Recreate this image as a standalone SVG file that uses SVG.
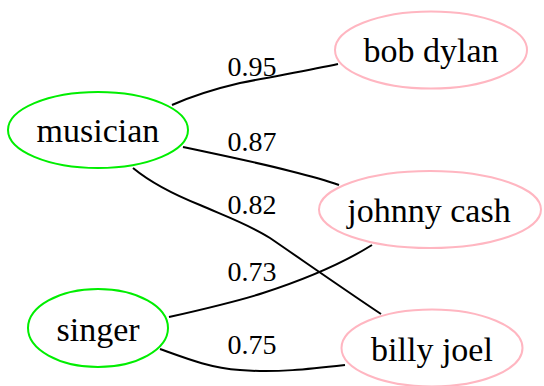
<svg xmlns="http://www.w3.org/2000/svg" width="544" height="386" viewBox="0 0 544 386">
<style>
.n{fill:#fff;stroke-width:2}
.g{stroke:#00ee00}
.p{stroke:#ffb6c1}
.t{font-family:"Liberation Serif","Times New Roman",serif;font-size:34px;fill:#000;text-anchor:middle}
.e{fill:none;stroke:#000;stroke-width:2}
.l{font-family:"Liberation Serif","Times New Roman",serif;font-size:28px;fill:#000;text-anchor:middle}
</style>
<rect width="544" height="386" fill="#fff"/>
<g id="connectors">
<path class="e" d="M172,105 C190,97 210,90 240,83 C275,76 310,70 338,64"/>
<path class="e" d="M183,147 C220,155 260,163 290,171 C310,176 325,180 339,185"/>
<path class="e" d="M133,168 C150,182 175,195 200,205 C225,216 250,225 270,238 C305,262 345,290 381,314"/>
<path class="e" d="M169,317 C200,310 235,302 263,293 C300,281 340,265 372,245"/>
<path class="e" d="M160,349 C185,358 210,368 240,370 C275,373 310,369 345,365"/>
<text class="l" x="252" y="76">0.95</text>
<text class="l" x="252" y="151">0.87</text>
<text class="l" x="252" y="214">0.82</text>
<text class="l" x="252" y="281">0.73</text>
<text class="l" x="252" y="354">0.75</text>
</g>
<g id="musician"><ellipse class="n g" cx="98" cy="130" rx="90" ry="38"/><text class="t" x="98" y="142">musician</text></g>
<g id="singer"><ellipse class="n g" cx="98" cy="328" rx="70" ry="39"/><text class="t" x="98" y="341">singer</text></g>
<g id="bob_dylan"><ellipse class="n p" cx="431" cy="50" rx="96" ry="38.5"/><text class="t" x="431" y="62">bob dylan</text></g>
<g id="johnny_cash"><ellipse class="n p" cx="430" cy="209.5" rx="111" ry="38.5"/><text class="t" x="429" y="222">johnny cash</text></g>
<g id="billy_joel"><ellipse class="n p" cx="432" cy="348" rx="90.5" ry="38.5"/><text class="t" x="432" y="361">billy joel</text></g>
</svg>
